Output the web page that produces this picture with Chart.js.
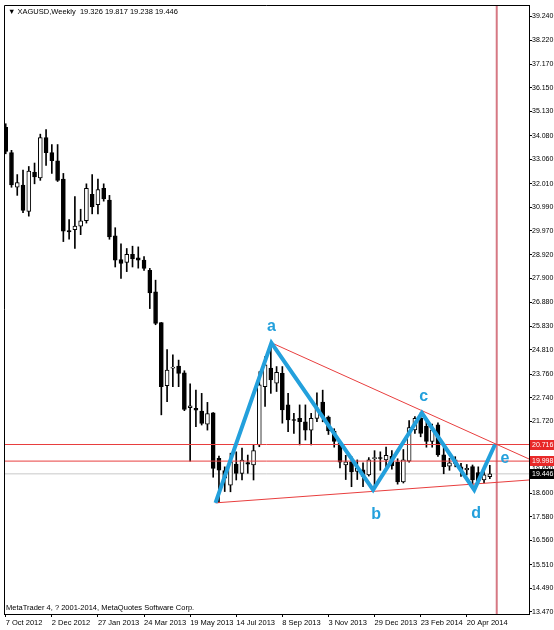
<!DOCTYPE html>
<html>
<head>
<meta charset="utf-8">
<script src="https://cdn.jsdelivr.net/npm/chart.js@4.4.1/dist/chart.umd.min.js"></script>
<style>
  html, body { margin: 0; padding: 0; background: #fff; }
  canvas { display: block; }
</style>
</head>
<body>
<canvas id="chart" width="554" height="630"></canvas>
<script>
const symbolTitle = '\u25BC XAGUSD,Weekly  19.326 19.817 19.238 19.446';
const copyright = 'MetaTrader 4, ? 2001-2014, MetaQuotes Software Corp.';

// weekly candles, bar 0 = week of 7 Oct 2012
const opens = [34.45, 33.35, 31.85, 31.95, 30.80, 32.50, 32.25, 34.00, 33.35, 33.00,
  32.20, 29.98, 30.02, 30.17, 30.40, 31.55, 31.10, 31.80, 31.30, 29.75,
  28.72, 28.60, 28.95, 28.80, 28.70, 28.26, 27.33, 25.99, 23.26, 24.02,
  24.11, 23.82, 22.31, 22.28, 22.16, 21.60, 22.09, 20.12, 19.59, 18.96,
  19.87, 19.47, 19.93, 19.83, 20.70, 23.22, 24.02, 23.37, 23.80, 22.43,
  21.80, 21.85, 21.70, 21.34, 21.85, 22.55, 21.90, 21.30, 20.80, 19.83,
  19.97, 19.55, 19.62, 19.40, 20.10, 20.15, 20.05, 20.20, 19.95, 19.10,
  20.00, 21.35, 21.85, 21.50, 20.85, 21.57, 20.27, 19.78, 20.05, 19.75,
  19.62, 19.76, 19.50, 19.18, 19.326];
const highs = [34.60, 33.45, 32.40, 32.60, 32.75, 32.90, 34.15, 34.35, 33.70, 33.70,
  32.45, 30.45, 31.45, 30.90, 32.00, 32.40, 32.20, 32.00, 31.50, 30.10,
  29.40, 29.20, 29.30, 29.27, 28.85, 28.34, 27.83, 26.00, 24.83, 24.60,
  24.37, 23.91, 23.34, 23.07, 22.93, 22.54, 22.10, 20.22, 19.75, 20.34,
  20.40, 20.56, 20.26, 20.69, 23.87, 24.52, 25.10, 24.09, 24.09, 22.93,
  22.07, 22.43, 22.43, 22.07, 22.95, 23.07, 21.95, 21.40, 20.90, 20.25,
  20.20, 20.05, 19.92, 20.15, 20.45, 20.40, 20.60, 20.45, 20.10, 20.50,
  21.75, 21.92, 22.10, 21.70, 21.60, 21.65, 20.60, 20.12, 20.19, 19.90,
  19.85, 19.83, 19.75, 19.60, 19.817];
const lows = [33.30, 31.85, 31.50, 30.75, 30.60, 32.00, 32.15, 32.80, 32.45, 32.10,
  29.50, 29.60, 29.20, 29.80, 30.30, 30.70, 30.70, 31.25, 29.60, 28.40,
  27.90, 28.20, 28.40, 28.35, 28.25, 26.60, 25.90, 22.00, 22.57, 23.22,
  23.22, 22.18, 20.00, 21.49, 21.56, 21.34, 19.30, 18.20, 18.68, 18.67,
  19.18, 19.18, 19.47, 19.18, 20.62, 22.36, 22.93, 23.01, 21.64, 21.27,
  21.20, 20.70, 20.91, 20.70, 21.70, 21.70, 21.15, 20.60, 19.70, 19.20,
  18.89, 19.20, 18.89, 19.35, 18.84, 19.60, 19.75, 19.65, 19.00, 19.05,
  19.95, 21.20, 21.05, 20.60, 20.60, 20.20, 19.45, 19.60, 19.75, 19.33,
  19.40, 18.85, 19.02, 19.05, 19.238];
const closes = [33.40, 31.95, 32.05, 30.85, 32.55, 32.30, 34.00, 33.35, 33.00, 32.15,
  29.95, 29.92, 30.17, 30.40, 31.80, 31.00, 31.75, 31.35, 29.70, 28.70,
  28.55, 28.95, 28.75, 28.70, 28.34, 27.28, 25.96, 23.22, 23.94, 24.07,
  23.79, 22.23, 22.39, 22.20, 21.63, 22.06, 19.68, 19.61, 19.26, 19.97,
  19.47, 20.04, 19.87, 20.45, 23.30, 24.16, 23.51, 23.84, 22.21, 21.78,
  21.76, 21.70, 21.34, 21.85, 22.30, 21.92, 21.30, 20.85, 19.95, 19.97,
  19.53, 19.70, 19.33, 20.05, 20.15, 20.11, 20.25, 19.80, 19.10, 20.05,
  21.45, 21.85, 21.20, 20.85, 21.35, 20.27, 19.76, 19.92, 19.90, 19.62,
  19.69, 19.18, 19.15, 19.40, 19.446];

const dateTicks = [0, 8, 16, 24, 32, 40, 48, 56, 64, 72, 80];
const dateLabels = ['7 Oct 2012', '2 Dec 2012', '27 Jan 2013', '24 Mar 2013', '19 May 2013',
  '14 Jul 2013', '8 Sep 2013', '3 Nov 2013', '29 Dec 2013', '23 Feb 2014', '20 Apr 2014'];
const priceTicks = [13.47, 14.49, 15.51, 16.56, 17.58, 18.60, 19.65, 20.67, 21.72, 22.74,
  23.76, 24.81, 25.83, 26.88, 27.90, 28.92, 29.97, 30.99, 32.01, 33.06, 34.08, 35.13,
  36.15, 37.17, 38.22, 39.24];

// wave a-b-c-d-e drawn on the chart
const waveX = [36.4, 46.1, 63.75, 72.2, 81.3, 84.9];
const waveY = [18.19, 25.12, 18.75, 22.08, 18.75, 20.716];
const waveNames = ['', 'a', 'b', 'c', 'd', 'e'];

const upperTrendX = [46.1, 90.8];
const upperTrendY = [25.12, 20.09];
const lowerTrendX = [36.4, 90.8];
const lowerTrendY = [18.19, 19.18];

const redLevels = [20.716, 19.998];
const lastPrice = 19.446;
const cursorBar = 85.2;

const X_MIN = -0.3, X_MAX = 90.8;
const Y_MIN = 13.38, Y_MAX = 39.74;

const FONT = '"Liberation Sans", Arial, sans-serif';
const BLUE = 'rgb(35,160,220)';
const RED = 'rgb(232,62,62)';

const pts = (xs, ys) => xs.map((v, i) => ({x: v, y: ys[i]}));

const wicks = opens.map((o, i) => ({x: i, y: [lows[i], highs[i]]}));
const bodies = opens.map((o, i) => {
  let c = closes[i];
  if (Math.abs(c - o) < 0.04) c = o + (c >= o ? 0.04 : -0.04);
  return {x: i, y: [o, c]};
});
const bodyColors = opens.map((o, i) => closes[i] >= o ? '#fff' : '#000');

// label offsets from the wave points, px
const labelOffsets = [null, [0, -16], [3, 25], [2, -16], [2, 24], [10, 14]];
const priceTags = [
  {value: redLevels[0], bg: 'rgb(232,40,40)'},
  {value: redLevels[1], bg: 'rgb(232,40,40)'},
  {value: lastPrice, bg: '#000'}
];

const decor = {
  id: 'decor',
  afterDraw(chart) {
    const {ctx, chartArea: a, scales: {x, y}} = chart;
    ctx.save();
    ctx.strokeStyle = '#000';
    ctx.lineWidth = 1;
    ctx.beginPath();
    ctx.moveTo(a.left + 0.5, a.bottom);
    ctx.lineTo(a.left + 0.5, a.top + 0.5);
    ctx.lineTo(a.right, a.top + 0.5);
    ctx.stroke();

    ctx.fillStyle = '#000';
    ctx.font = '7.5px ' + FONT;
    ctx.textAlign = 'left';
    ctx.textBaseline = 'middle';
    ctx.fillText(symbolTitle, a.left + 4, a.top + 7);
    ctx.fillText(copyright, a.left + 2, a.bottom - 6);

    ctx.fillStyle = BLUE;
    ctx.font = 'bold 16px "Liberation Sans", Arial, sans-serif';
    ctx.textAlign = 'center';
    waveNames.forEach((name, i) => {
      if (!name) return;
      const off = labelOffsets[i];
      ctx.fillText(name, x.getPixelForValue(waveX[i]) + off[0], y.getPixelForValue(waveY[i]) + off[1]);
    });

    ctx.font = '7px ' + FONT;
    ctx.textAlign = 'left';
    priceTags.forEach(t => {
      const py = Math.round(y.getPixelForValue(t.value));
      ctx.fillStyle = t.bg;
      ctx.fillRect(y.left + 1, py - 5, chart.width - y.left - 1, 10);
      ctx.fillStyle = '#fff';
      ctx.fillText(t.value.toFixed(3), y.left + 3, py + 0.5);
    });
    ctx.restore();
  }
};

const lineSet = (data, color, width, order) => ({
  type: 'line', data, borderColor: color, borderWidth: width,
  pointRadius: 0, tension: 0, fill: false, order
});

new Chart(document.getElementById('chart'), {
  type: 'bar',
  data: {
    datasets: [
      lineSet(pts(waveX, waveY), BLUE, 4, 0),
      lineSet(pts(upperTrendX, upperTrendY), RED, 1, 1),
      lineSet(pts(lowerTrendX, lowerTrendY), RED, 1, 1),
      lineSet(pts([X_MIN, X_MAX], [redLevels[0], redLevels[0]]), RED, 1, 1),
      lineSet(pts([X_MIN, X_MAX], [redLevels[1], redLevels[1]]), RED, 1, 1),
      lineSet(pts([cursorBar, cursorBar], [Y_MIN, Y_MAX]), 'rgb(214,120,132)', 2, 1),
      {
        type: 'bar', data: bodies, backgroundColor: bodyColors, borderColor: '#000',
        borderWidth: 1, borderSkipped: false, barThickness: 4, grouped: false, order: 2
      },
      {
        type: 'bar', data: wicks, backgroundColor: '#000', borderWidth: 0,
        barThickness: 1, grouped: false, order: 3
      },
      lineSet(pts([X_MIN, X_MAX], [lastPrice, lastPrice]), 'rgb(200,200,200)', 1, 4)
    ]
  },
  options: {
    responsive: false,
    animation: false,
    devicePixelRatio: 1,
    layout: {padding: {top: 5, left: 4, right: 0, bottom: 0}},
    plugins: {legend: {display: false}, tooltip: {enabled: false}},
    scales: {
      x: {
        type: 'linear', min: X_MIN, max: X_MAX, offset: false,
        grid: {drawOnChartArea: false, offset: false, tickLength: 3, color: '#000'},
        border: {display: true, color: '#000'},
        ticks: {
          autoSkip: false, maxRotation: 0, align: 'start', padding: 1, color: '#000',
          font: {family: FONT, size: 7.5},
          callback: (v, i) => dateLabels[i]
        },
        afterBuildTicks: s => { s.ticks = dateTicks.map(v => ({value: v})); },
        afterFit: s => { s.height = 16; s.paddingLeft = 0; s.paddingRight = 0; }
      },
      y: {
        type: 'linear', position: 'right', min: Y_MIN, max: Y_MAX, beginAtZero: false,
        grid: {drawOnChartArea: false, tickLength: 3, color: '#000'},
        border: {display: true, color: '#000'},
        ticks: {
          autoSkip: false, padding: 0, color: '#000',
          font: {family: FONT, size: 7},
          callback: v => v.toFixed(3)
        },
        afterBuildTicks: s => { s.ticks = priceTicks.map(v => ({value: v})); },
        afterFit: s => { s.width = 25; s.paddingTop = 0; s.paddingBottom = 0; }
      }
    }
  },
  plugins: [decor]
});
</script>
</body>
</html>
